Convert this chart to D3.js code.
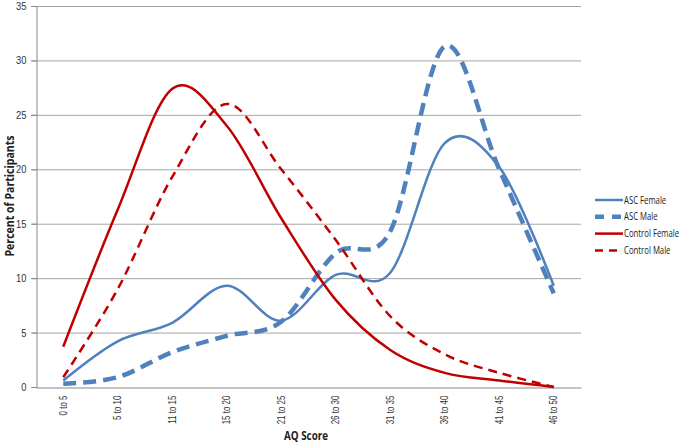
<!DOCTYPE html>
<html><head><meta charset="utf-8">
<script src="https://cdn.jsdelivr.net/npm/d3@7"></script>
<style>body{margin:0;background:#fff}svg{display:block;font-family:"Open Sans","Liberation Sans",sans-serif}</style>
</head><body><svg id="c" width="686" height="444"></svg>
<script>
const categories = ["0 to 5","5 to 10","11 to 15","15 to 20","21 to 25","26 to 30","31 to 35","36 to 40","41 to 45","46 to 50"];
const ascFemale     = [0.6, 4.2, 5.9, 9.3, 6.1, 10.3, 10.5, 22.4, 20.2, 9.3];
const ascMale       = [0.3, 0.9, 3.2, 4.7, 6.0, 12.3, 14.3, 31.3, 20.0, 8.6];
const controlFemale = [3.7, 16.3, 27.4, 24.0, 15.5, 8.0, 3.4, 1.3, 0.6, 0.0];
const controlMale   = [0.9, 9.0, 19.3, 26.0, 20.0, 13.5, 6.5, 3.0, 1.3, 0.0];
const yTicks = [0,5,10,15,20,25,30,35];
const seriesNames = ["ASC Female","ASC Male","Control Female","Control Male"];

const series = [
  {name: seriesNames[0], values: ascFemale, color:"#4F81BD", width:2.5, dash:null},
  {name: seriesNames[1], values: ascMale, color:"#4F81BD", width:4.5, dash:"13,7"},
  {name: seriesNames[2], values: controlFemale, color:"#C00000", width:2.5, dash:null},
  {name: seriesNames[3], values: controlMale, color:"#C00000", width:2.5, dash:"9,6"}
];

const svg = d3.select("#c");
const L = 36, R = 581, T = 6, B = 387;
const x = d3.scaleBand().domain(categories).range([L, R]);
const y = d3.scaleLinear().domain([0, 35]).range([B, T]);

function squeeze(sel, f) {
  sel.each(function(){
    const w = this.getComputedTextLength();
    d3.select(this).attr("textLength", w*f).attr("lengthAdjust", "spacingAndGlyphs");
  });
}

// gridlines
svg.append("g").selectAll("line").data(yTicks.filter(d=>d>0)).join("line")
  .attr("x1", L-5).attr("x2", R).attr("y1", d=>y(d)+0.5).attr("y2", d=>y(d)+0.5)
  .attr("stroke", "#a6a6a6").attr("stroke-width", 1);

// y axis
const ya = svg.append("g").attr("transform", `translate(${L+0.5},0)`)
  .call(d3.axisLeft(y).tickValues(yTicks).tickSize(5).tickPadding(5));
ya.select(".domain").attr("stroke", "#868686");
ya.selectAll(".tick line").attr("stroke", "#868686");
ya.selectAll("text").attr("font-size", 11).attr("fill", "#333");
squeeze(ya.selectAll("text"), 0.85);

// x axis
const xa = svg.append("g").attr("transform", `translate(0,${B+0.5})`)
  .call(d3.axisBottom(x).tickSize(0).tickSizeOuter(0));
xa.select(".domain").attr("stroke", "#868686");
xa.selectAll("text").attr("font-size", 10.5).attr("fill", "#333")
  .attr("transform", "rotate(-90)").attr("text-anchor", "end")
  .attr("x", -8).attr("y", 0).attr("dy", "0.35em");
squeeze(xa.selectAll("text"), 0.76);

// axis titles
const xt = svg.append("text").attr("x", 306).attr("y", 440).attr("text-anchor", "middle")
  .attr("font-size", 12).attr("font-weight", "bold").attr("fill", "#222").text("AQ Score");
squeeze(xt, 0.82);
const yt = svg.append("text").attr("transform", "translate(14,196) rotate(-90)").attr("text-anchor", "middle")
  .attr("font-size", 12).attr("font-weight", "bold").attr("fill", "#222").text("Percent of Participants");
squeeze(yt, 0.88);

// lines
const line = d3.line()
  .x((d,i)=>x(categories[i]) + x.bandwidth()/2)
  .y(d=>y(d))
  .curve(d3.curveCatmullRom.alpha(0));

svg.append("g").selectAll("path").data(series).join("path")
  .attr("d", d=>line(d.values))
  .attr("fill", "none")
  .attr("stroke", d=>d.color)
  .attr("stroke-width", d=>d.width)
  .attr("stroke-dasharray", d=>d.dash)
  .attr("stroke-linejoin", "round");

// legend
const lg = svg.append("g").selectAll("g").data(series).join("g")
  .attr("transform", (d,i)=>`translate(595,${200 + i*16.8})`);
lg.append("line").attr("x1", 0).attr("x2", 28).attr("y1", 0).attr("y2", 0)
  .attr("stroke", d=>d.color).attr("stroke-width", d=>d.width)
  .attr("stroke-dasharray", d=>d.dash ? (d.width>3 ? "9,8" : "8,6") : null);
lg.append("text").attr("transform", "translate(29,0) scale(0.74,1)").attr("dy", "0.35em")
  .attr("font-size", 10.5).attr("fill", "#222").text(d=>d.name);
</script></body></html>
